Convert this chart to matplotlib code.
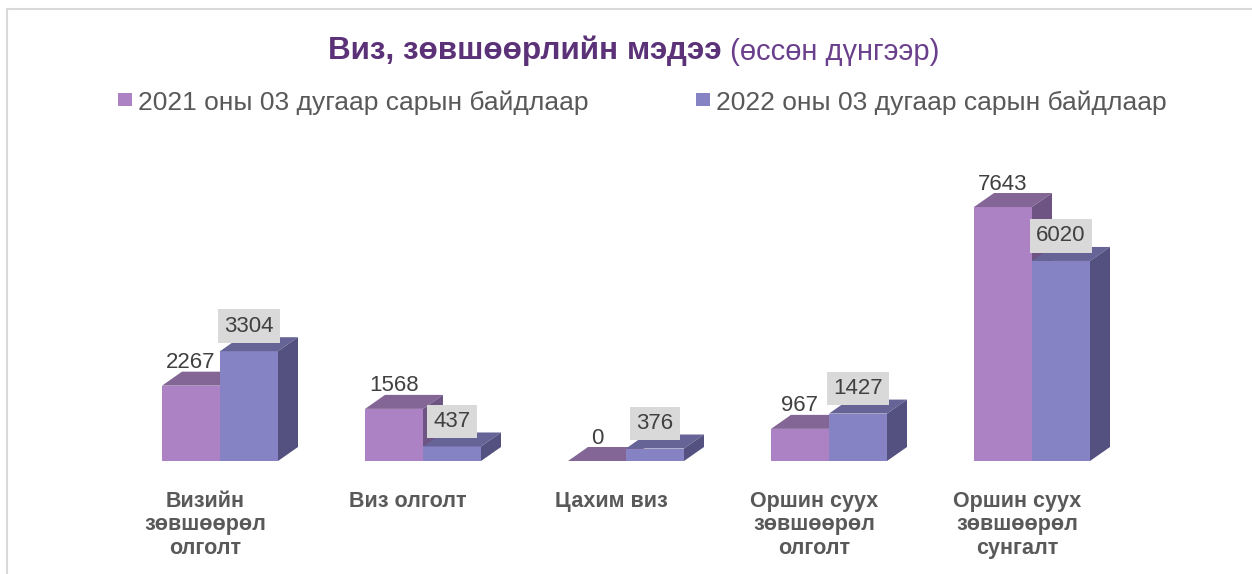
import matplotlib.pyplot as plt
from matplotlib.patches import Polygon, Rectangle

plt.rcParams['font.family'] = ['Liberation Sans', 'DejaVu Sans']

# data
categories = ["Визийн\nзөвшөөрөл\nолголт", "Виз олголт", "Цахим виз",
              "Оршин суух\nзөвшөөрөл\nолголт", "Оршин суух\nзөвшөөрөл\nсунгалт"]
series_names = ["2021 оны 03 дугаар сарын байдлаар", "2022 оны 03 дугаар сарын байдлаар"]
values_2021 = [2267, 1568, 0, 967, 7643]
values_2022 = [3304, 437, 376, 1427, 6020]

# colours: front, top, side
c2021 = ("#AC82C4", "#836695", "#6E5482")
c2022 = ("#8683C4", "#666396", "#545180")

W, H = 1252, 574
fig = plt.figure(figsize=(W / 100, H / 100), dpi=100)

# chart border (runs off right/bottom edge)
fig.patches.append(Rectangle((7 / W, -0.1), 1.2, (H - 9) / H + 0.1, transform=fig.transFigure,
                             fill=False, edgecolor="#D9D9D9", linewidth=1.5))

# plot area: 203 px per category, baseline at y=461 px
ax_left, ax_w = 118.5, 1015
ax_bottom, ax_h = H - 461, 281
ax = fig.add_axes([ax_left / W, ax_bottom / H, ax_w / W, ax_h / H])
ymax = 8456
ax.set_xlim(-0.5, 4.5)
ax.set_ylim(0, ymax)
ax.axis("off")

px_x = 5 / ax_w          # data units per pixel
px_y = ymax / ax_h
bw = 58 * px_x
dx, dy = 20 * px_x, 14 * px_y


def bar3d(x0, h, cols):
    front, top, side = cols
    ax.add_patch(Polygon([(x0, 0), (x0 + bw, 0), (x0 + bw, h), (x0, h)], closed=True,
                         facecolor=front, edgecolor="none"))
    ax.add_patch(Polygon([(x0, h), (x0 + bw, h), (x0 + bw + dx, h + dy), (x0 + dx, h + dy)],
                         closed=True, facecolor=top, edgecolor="none"))
    ax.add_patch(Polygon([(x0 + bw, 0), (x0 + bw + dx, dy), (x0 + bw + dx, h + dy), (x0 + bw, h)],
                         closed=True, facecolor=side, edgecolor="none"))


for i, (a, b) in enumerate(zip(values_2021, values_2022)):
    bar3d(i - bw, a, c2021)
    bar3d(i, b, c2022)
    ax.text(i - bw / 2, a + 23 * px_y, str(a), ha="center", va="center",
            fontsize=16, color="#404040", clip_on=False)
    ax.text(i + bw / 2, b + 25 * px_y, str(b), ha="center", va="center",
            fontsize=16, color="#404040", clip_on=False,
            bbox=dict(boxstyle="square,pad=0.28", facecolor="#D9D9D9", edgecolor="none"))
    ax.text(i - 0.074, -30 * px_y, categories[i], ha="center", va="top", fontsize=15.5,
            fontweight="bold", color="#595959", linespacing=1.15, clip_on=False)

# title
t1 = fig.text(328 / W, (H - 59) / H, "Виз, зөвшөөрлийн мэдээ", fontsize=22.6,
              fontweight="bold", color="#5B3278", ha="left", va="baseline")
ax.annotate(" (өссөн дүнгээр)", xy=(1, 0), xycoords=t1, ha="left", va="bottom",
            fontsize=21, color="#6A3F8C", annotation_clip=False)

# legend
for (sx, tx), name, col in zip([(118, 138), (696, 716)], series_names, [c2021[0], c2022[0]]):
    fig.patches.append(Rectangle((sx / W, (H - 106) / H), 14 / W, 13 / H,
                                 transform=fig.transFigure, facecolor=col, edgecolor="none"))
    fig.text(tx / W, (H - 110) / H, name, fontsize=19, color="#595959",
             ha="left", va="baseline")

fig.savefig("out.png", dpi=100, facecolor="white")
